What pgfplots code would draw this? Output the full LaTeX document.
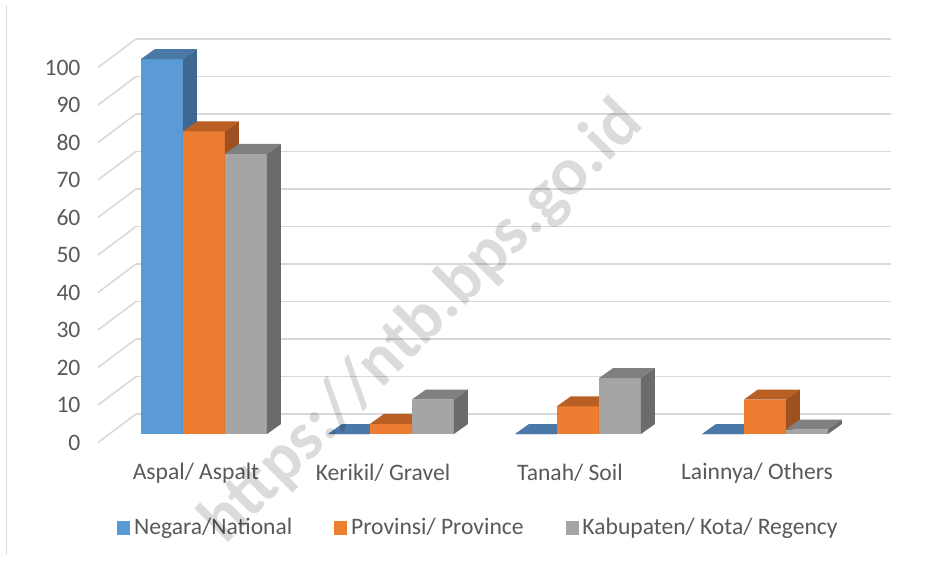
\documentclass[border=0pt]{standalone}
\usepackage{pgfplots}
\usepackage{pgfplotstable}
\pgfplotsset{compat=1.18}
\usepackage{fontspec}
\setmainfont{Carlito}

\definecolor{BF}{HTML}{5B9BD5}\definecolor{BT}{HTML}{4A79A8}\definecolor{BS}{HTML}{3E6892}
\definecolor{OF}{HTML}{ED7D31}\definecolor{OT}{HTML}{BA5F23}\definecolor{OS}{HTML}{9E5020}
\definecolor{GF}{HTML}{A5A5A5}\definecolor{GT}{HTML}{808080}\definecolor{GS}{HTML}{6B6B6B}
\definecolor{gridc}{HTML}{D9D9D9}
\definecolor{txt}{HTML}{595959}

\newcommand\declbar[1]{%
\pgfdeclareplotmark{bar3d#1}{%
  \pgfmathsetlengthmacro\bh{\barval*1.875pt}%
  \pgfmathsetlengthmacro\bt{5pt-\barval*1.875pt}%
  \pgfsetfillcolor{#1F}%
  \pgfpathrectanglecorners{\pgfpoint{-10.5pt}{0pt}}{\pgfpoint{10.5pt}{-\bh}}%
  \pgfusepathqfill
  \pgfsetfillcolor{#1T}%
  \pgfpathmoveto{\pgfpoint{-10.5pt}{0pt}}%
  \pgfpathlineto{\pgfpoint{10.5pt}{0pt}}%
  \pgfpathlineto{\pgfpoint{17.5pt}{5pt}}%
  \pgfpathlineto{\pgfpoint{-3.5pt}{5pt}}%
  \pgfpathclose\pgfusepathqfill
  \pgfsetfillcolor{#1S}%
  \pgfpathmoveto{\pgfpoint{10.5pt}{0pt}}%
  \pgfpathlineto{\pgfpoint{17.5pt}{5pt}}%
  \pgfpathlineto{\pgfpoint{17.5pt}{\bt}}%
  \pgfpathlineto{\pgfpoint{10.5pt}{-\bh}}%
  \pgfpathclose\pgfusepathqfill
}}
\declbar{B}\declbar{O}\declbar{G}
\pgfdeclareplotmark{walldiag}{%
  \pgfpathmoveto{\pgfpoint{-5.25pt}{-4.25pt}}%
  \pgfpathlineto{\pgfpoint{13.75pt}{10pt}}%
  \pgfusepathqstroke
}

\pgfplotstableread{
x y
-0.2246 100
0.7754 0
1.7754 0
2.7754 0
}\national
\pgfplotstableread{
x y
0 80.7
1 2.7
2 7.4
3 9.2
}\province
\pgfplotstableread{
x y
0.2246 74.7
1.2246 9.2
2.2246 14.9
3.2246 1.2
}\regency
\pgfplotstableread{
x y
-0.5107 0
-0.5107 10
-0.5107 20
-0.5107 30
-0.5107 40
-0.5107 50
-0.5107 60
-0.5107 70
-0.5107 80
-0.5107 90
-0.5107 100
}\wall

\begin{document}
\begin{tikzpicture}[font=\fontsize{11.8}{14}\selectfont]
\useasboundingbox (-54.25pt,-64.5pt) rectangle (415.25pt,217pt);
\draw[gridc, line width=0.8pt] (-51pt,-60.5pt) -- (-51pt,214.5pt);
\begin{axis}[
  scale only axis, width=377.5pt, height=187.5pt,
  at={(0pt,0pt)}, anchor=south west,
  xmin=-0.5107, xmax=3.527, ymin=0, ymax=100,
  clip=false,
  axis line style={draw=none},
  major tick length=0pt,
  ytick={0,10,...,100},
  ymajorgrids,
  major grid style={draw=gridc, line width=0.8pt, xshift=13.75pt, yshift=10pt},
  xtick={0,1,2,3},
  xticklabels={Aspal/ Aspalt, Kerikil/ Gravel, Tanah/ Soil, Lainnya/ Others},
  xticklabel style={anchor=center, yshift=-19.5pt, xshift=-4pt, text=txt},
  yticklabel style={text=txt, xshift=-10.5pt, yshift=-4.25pt},
  /pgf/number format/assume math mode=true,
  tick label style={font=\fontsize{11.8}{14}\selectfont},
  legend style={at={(0.4914,-0.25)}, anchor=center, draw=none,
    font=\fontsize{11.8}{14}\selectfont, text=txt,
    /tikz/every even column/.append style={column sep=19pt}},
  legend columns=3,
]
\addplot[only marks, mark=walldiag, draw=gridc, line width=0.8pt, forget plot] table[x=x,y=y] {\wall};
\addplot[only marks, mark=bar3dB, visualization depends on={rawy\as\barval},
  legend image code/.code={\fill[BF] (0pt,-3.2pt) rectangle (6pt,3.2pt);}] table[x=x,y=y] {\national};
\addlegendentry{Negara/National}
\addplot[only marks, mark=bar3dO, visualization depends on={rawy\as\barval},
  legend image code/.code={\fill[OF] (0pt,-3.2pt) rectangle (6pt,3.2pt);}] table[x=x,y=y] {\province};
\addlegendentry{Provinsi/ Province}
\addplot[only marks, mark=bar3dG, visualization depends on={rawy\as\barval},
  legend image code/.code={\fill[GF] (0pt,-3.2pt) rectangle (6pt,3.2pt);}] table[x=x,y=y] {\regency};
\addlegendentry{Kabupaten/ Kota/ Regency}
\end{axis}
\node[rotate=45, font=\fontsize{34}{40}\selectfont\bfseries, text=black, opacity=0.14] at (157pt,55.5pt) {https://ntb.bps.go.id};
\end{tikzpicture}
\end{document}
